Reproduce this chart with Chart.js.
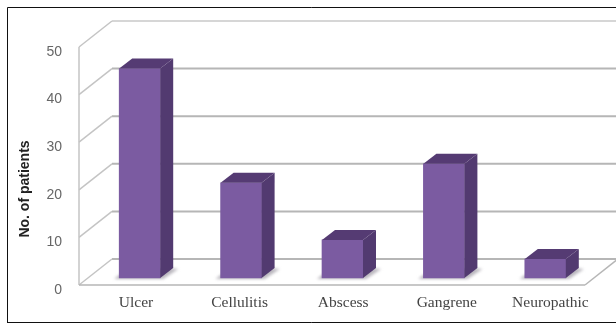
<!DOCTYPE html>
<html>
<head>
<meta charset="utf-8">
<script src="https://cdn.jsdelivr.net/npm/chart.js@4/dist/chart.umd.min.js"></script>
<style>
html,body{margin:0;padding:0;background:#fff;overflow:hidden}
canvas{display:block}
</style>
</head>
<body>
<canvas id="c" width="616" height="325"></canvas>
<script>
const categories = ['Ulcer', 'Cellulitis', 'Abscess', 'Gangrene', 'Neuropathic'];
const patients = [44, 20, 8, 24, 4];
const yTicks = [0, 10, 20, 30, 40, 50];
const yTitle = 'No. of patients';

// Oblique projection of the 3-D box: how far the back plane sits from the front plane.
const WALL_DX = 33, WALL_DY = -26;
const BAR_DX = 13, BAR_DY = -10;
const FLOOR_FRONT_LEFT = 79, FLOOR_FRONT_RIGHT = 585;

function line(ctx, x1, y1, x2, y2) {
  ctx.beginPath(); ctx.moveTo(x1, y1); ctx.lineTo(x2, y2); ctx.stroke();
}
function poly(ctx, pts, fill) {
  ctx.beginPath();
  pts.forEach((p, i) => i ? ctx.lineTo(p[0], p[1]) : ctx.moveTo(p[0], p[1]));
  ctx.closePath(); ctx.fillStyle = fill; ctx.fill();
}

const box3d = {
  id: 'box3d',
  beforeDatasetsDraw(chart) {
    const { ctx } = chart, y = chart.scales.y;
    ctx.save();
    // thin black frame, open on the right
    ctx.strokeStyle = '#111'; ctx.lineWidth = 1;
    line(ctx, 7.5, 7.5, 616, 7.5);
    line(ctx, 7.5, 7.5, 7.5, 323);
    line(ctx, 7.5, 322.5, 616, 322.5);

    // back wall grid lines
    ctx.lineWidth = 2;
    yTicks.forEach(v => {
      const py = y.getPixelForValue(v) + WALL_DY;
      ctx.strokeStyle = v === 50 ? '#d6d6d6' : '#b6b6b6';
      line(ctx, FLOOR_FRONT_LEFT + WALL_DX, py, 616, py);
    });

    // side wall: front upright and the slanted grid lines
    ctx.strokeStyle = '#c4c4c4'; ctx.lineWidth = 1.5;
    line(ctx, FLOOR_FRONT_LEFT, y.getPixelForValue(0), FLOOR_FRONT_LEFT, y.getPixelForValue(50));
    yTicks.forEach(v => {
      const py = y.getPixelForValue(v);
      line(ctx, FLOOR_FRONT_LEFT, py, FLOOR_FRONT_LEFT + WALL_DX, py + WALL_DY);
    });
    // floor front edge and right edge
    const y0 = y.getPixelForValue(0);
    ctx.strokeStyle = '#b6b6b6';
    line(ctx, FLOOR_FRONT_LEFT, y0, FLOOR_FRONT_RIGHT, y0);
    line(ctx, FLOOR_FRONT_RIGHT, y0, FLOOR_FRONT_RIGHT + WALL_DX, y0 + WALL_DY);

    // soft floor shadows behind each bar
    chart.getDatasetMeta(0).data.forEach(b => {
      const { x, base, width } = b.getProps(['x', 'base', 'width'], true);
      const l = x - width / 2, r = x + width / 2;
      ctx.save();
      ctx.filter = 'blur(1.5px)';
      poly(ctx, [[l - 5, base + 1], [r + 3, base + 1], [r + 18, base - 9], [r + 6, base - 10], [l, base - 3]], '#b9b6bd');
      ctx.restore();
    });

    // rotated axis title
    ctx.save();
    ctx.translate(25, 189);
    ctx.rotate(-Math.PI / 2);
    ctx.fillStyle = '#222';
    ctx.font = 'bold 14px "Liberation Sans"';
    ctx.textAlign = 'center';
    ctx.textBaseline = 'middle';
    ctx.fillText(yTitle, 0, 0);
    ctx.restore();
    ctx.restore();
  },
  afterDatasetsDraw(chart) {
    const { ctx } = chart;
    ctx.save();
    chart.getDatasetMeta(0).data.forEach(b => {
      const { x, y, base, width } = b.getProps(['x', 'y', 'base', 'width'], true);
      const l = x - width / 2, r = x + width / 2;
      poly(ctx, [[r, y], [r + BAR_DX, y + BAR_DY], [r + BAR_DX, base + BAR_DY], [r, base]], '#523a70');
      poly(ctx, [[l, y], [l + BAR_DX, y + BAR_DY], [r + BAR_DX, y + BAR_DY], [r, y]], '#553b73');
    });
    ctx.restore();
  }
};

new Chart(document.getElementById('c'), {
  type: 'bar',
  data: {
    labels: categories,
    datasets: [{
      label: yTitle,
      data: patients,
      backgroundColor: '#7b5ba1',
      borderWidth: 0,
      barThickness: 41,
      xAxisID: 'x',
      yAxisID: 'yBars'
    }]
  },
  options: {
    responsive: false,
    animation: false,
    layout: { padding: { top: 47, right: 20, left: 0, bottom: 0 } },
    plugins: { legend: { display: false }, tooltip: { enabled: false }, title: { display: false } },
    scales: {
      // bars stand a little inside the floor, so their zero sits above the front edge
      yBars: { type: 'linear', display: false, min: -1.47, max: 48.53 },
      y: {
        type: 'linear', position: 'left', min: 0, max: 50,
        afterBuildTicks(s) { s.ticks = yTicks.map(v => ({ value: v })); },
        afterFit(s) { s.width = 89; },
        grid: { display: false, drawTicks: false },
        border: { display: false },
        ticks: { color: '#666', padding: 27, labelOffset: 5, font: { family: '"Liberation Sans"', size: 14 } }
      },
      x: { type: 'category', display: false, offset: true },
      // category names, spaced slightly wider than the bars
      xLabels: {
        type: 'linear', position: 'bottom', bounds: 'data', offset: false,
        min: 1 - (136 - 89) / 103.6, max: 1 + (596 - 136) / 103.6,
        afterBuildTicks(s) { s.ticks = categories.map((c, i) => ({ value: i + 1 })); },
        afterFit(s) { s.height = 40; },
        grid: { display: false, drawTicks: false, offset: false },
        border: { display: false },
        ticks: {
          color: '#444', padding: 9, maxRotation: 0, autoSkip: false,
          font: { family: '"Liberation Serif"', size: 15.5 },
          callback: v => categories[v - 1]
        }
      }
    }
  },
  plugins: [box3d]
});
</script>
</body>
</html>
